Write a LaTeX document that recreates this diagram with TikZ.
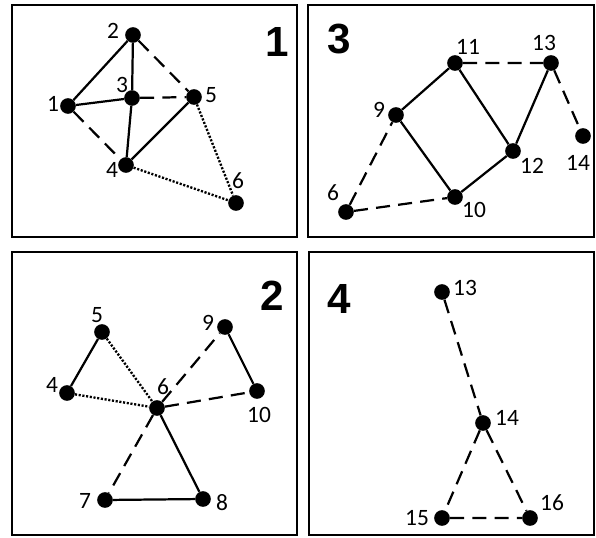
\documentclass[tikz,border=0pt]{standalone}
\usepackage{fontspec}
\setmainfont{Carlito}
\newfontfamily\bigfont{Liberation Sans}
\usepackage{tikz}
\usetikzlibrary{calc,positioning}
\tikzset{
  pt/.style={circle,fill=black,inner sep=0pt,minimum size=0.47cm},
  num/.style={inner sep=0pt,font=\fontsize{20}{24}\selectfont},
  titulo/.style={inner sep=0pt,font=\bigfont\bfseries\fontsize{36}{40}\selectfont},
  marco/.style={draw=black,line width=2.4pt},
  lleno/.style={line width=1.9pt},
  rayas/.style={line width=1.9pt,dash pattern=on 12pt off 7pt},
  puntos/.style={line width=2pt,dash pattern=on 1.8pt off 1.4pt}
}
\begin{document}
\begin{tikzpicture}[x=0.03cm,y=-0.03cm]
\useasboundingbox (0,0) rectangle (596,537);
% marcos
\draw[marco] (12,5) rectangle (297,237);
\draw[marco] (308,5) rectangle (594,237);
\draw[marco] (12,252) rectangle (297,535);
\draw[marco] (309,252) rectangle (594,535);
\node[titulo] (t1) at (277,42) {1};
\node[titulo] (t3) at (339,39) {3};
\node[titulo] (t2) at (272,296) {2};
\node[titulo] (t4) at (339,299) {4};
% panel 1
\node[pt] (a1) at (68,106) {}; \node[num] (la1) at (53,104) {1};
\node[pt] (a2) at (133,35) {};  \node[num] (la2) at (113,31) {2};
\node[pt] (a3) at (132,98) {};  \node[num] (la3) at (122,85) {3};
\node[pt] (a4) at (126,165) {}; \node[num] (la4) at (112,170) {4};
\node[pt] (a5) at (194,97) {};  \node[num] (la5) at (211,95) {5};
\node[pt] (a6) at (236,203) {}; \node[num] (la6) at (238,181) {6};
\draw[lleno] (a1)--(a2) (a2)--(a3) (a1)--(a3) (a3)--(a4) (a4)--(a5);
\draw[rayas] (a2)--(a5) (a3)--(a5) (a1)--(a4);
\draw[puntos] (a5)--(a6) (a4)--(a6);
% panel 3
\node[pt] (c6) at (346,212) {};  \node[num] (lc6) at (333,193) {6};
\node[pt] (c9) at (396,115) {};  \node[num] (lc9) at (379,110) {9};
\node[pt] (c10) at (455,197) {}; \node[num] (lc10) at (474,210) {10};
\node[pt] (c11) at (455,63) {};  \node[num] (lc11) at (468,47) {11};
\node[pt] (c12) at (513,151) {}; \node[num] (lc12) at (532,166) {12};
\node[pt] (c13) at (551,63) {};  \node[num] (lc13) at (544,43) {13};
\node[pt] (c14) at (583,136) {}; \node[num] (lc14) at (578,163) {14};
\draw[lleno] (c9)--(c11) (c11)--(c12) (c13)--(c12) (c9)--(c10) (c10)--(c12);
\draw[rayas] (c11)--(c13) (c13)--(c14) (c6)--(c9) (c6)--(c10);
% panel 2
\node[pt] (b4) at (67,393) {};  \node[num] (lb4) at (52,385) {4};
\node[pt] (b5) at (102,332) {}; \node[num] (lb5) at (97,315) {5};
\node[pt] (b6) at (157,408) {}; \node[num] (lb6) at (163,387) {6};
\node[pt] (b7) at (105,500) {}; \node[num] (lb7) at (85,501) {7};
\node[pt] (b8) at (203,499) {}; \node[num] (lb8) at (222,503) {8};
\node[pt] (b9) at (225,327) {}; \node[num] (lb9) at (208,323) {9};
\node[pt] (b10) at (257,391) {}; \node[num] (lb10) at (259,415) {10};
\draw[lleno] (b4)--(b5) (b9)--(b10) (b6)--(b8) (b7)--(b8);
\draw[puntos] (b5)--(b6) (b4)--(b6);
\draw[rayas] (b6)--(b9) (b6)--(b10) (b6)--(b7);
% panel 4
\node[pt] (d13) at (442,292) {}; \node[num] (ld13) at (465,288) {13};
\node[pt] (d14) at (483,423) {}; \node[num] (ld14) at (507,418) {14};
\node[pt] (d15) at (442,518) {}; \node[num] (ld15) at (417,518) {15};
\node[pt] (d16) at (530,518) {}; \node[num] (ld16) at (552,503) {16};
\draw[rayas] (d13)--(d14) (d14)--(d15) (d14)--(d16) (d15)--(d16);
\end{tikzpicture}
\end{document}
